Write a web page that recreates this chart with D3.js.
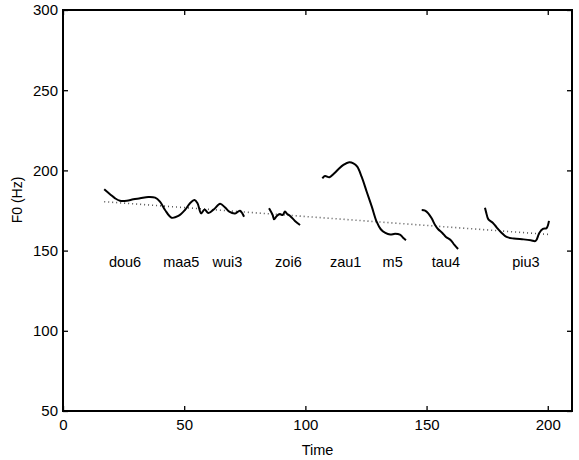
<!DOCTYPE html>
<html>
<head>
  <style>
    body { margin: 0; background: #fff; }
    svg { display: block; font-family: "Liberation Sans", Arial, sans-serif; }
  </style>
  <script src="https://d3js.org/d3.v7.min.js"></script>
</head>
<body>
  <svg id="chart" width="579" height="460"></svg>
  <script>
    // tick values
    const xTicks = [0, 50, 100, 150, 200];
    const yTicks = [50, 100, 150, 200, 250, 300];

    // syllable labels and where they sit in time
    const syllables = ["dou6", "maa5", "wui3", "zoi6", "zau1", "m5", "tau4", "piu3"];
    const syllableTimes = [25.6, 48.8, 67.8, 93, 116.6, 136, 158, 191];
    const labelF0 = 139.5;

    // F0 contours, [time, Hz]
    const contourA = [[17, 188.2], [19.5, 185], [21.5, 182.6], [23.5, 181.1], [26.3, 181.1], [29, 182],
      [31.8, 182.6], [35.2, 183.4], [38, 183], [40, 180.5], [42.1, 175.3], [44.8, 170.5], [47.6, 171.6],
      [50.3, 175.3], [52.4, 179.5], [54.3, 181.5], [55.5, 179.5], [57, 173.2], [58.4, 175.7], [60, 173.4],
      [62.3, 175.8], [64.8, 179.2], [66.8, 177], [68.6, 174.3], [71, 173.2], [73, 174.9], [74.7, 171.1]];
    const contourB = [[85, 176.4], [86.5, 172.2], [87.1, 169.5], [88.2, 171.6], [89.5, 172.8], [90.6, 172.2],
      [91.6, 174.3], [92.5, 172.8], [93.7, 171.6], [95.7, 168.5], [97.8, 166]];
    const contourC = [[107, 195.1], [108.1, 196.5], [109.9, 195.7], [111.5, 197.6], [113.6, 200.7],
      [115.7, 203.4], [118.1, 205.1], [119.8, 204.4], [121.4, 202.3], [123.2, 196.1], [125.3, 186.7],
      [127.4, 177.4], [129.4, 168], [131.1, 163.3], [133, 161], [135, 160], [137, 160.5], [139, 160],
      [140.3, 158], [141.5, 156.5]];
    const contourD = [[148, 175.3], [149.4, 174.9], [150.7, 173.2], [152.1, 170.1], [153.5, 166],
      [154.8, 163.3], [156.5, 161], [158, 158.5], [160, 156.5], [161.5, 153.5], [163, 151]];
    const contourE = [[174.1, 176.7], [174.5, 174.3], [175.5, 169.5], [177.3, 167.4], [178.9, 164.5],
      [181, 161], [183, 158.5], [186, 157.5], [190, 157], [193, 156.5], [195, 156], [196.5, 161],
      [198, 163.5], [199.5, 164], [200.5, 168.5]];
    const contours = [contourA, contourB, contourC, contourD, contourE];

    // declination trend (dotted)
    const trendTime = [17, 201];
    const trendF0 = [180.5, 160];

    const svg = d3.select("#chart");
    const plotLeft = 63, plotRight = 572, plotTop = 10, plotBottom = 411;

    const x = d3.scaleLinear().domain([0, 210]).range([plotLeft, plotRight]);
    const y = d3.scaleLinear().domain([50, 300]).range([plotBottom, plotTop]);

    // axes, MATLAB style: inward ticks on all four sides
    function styleAxis(g) {
      g.select(".domain").remove();
      g.selectAll(".tick line").attr("stroke", "#000").attr("stroke-width", 1.3);
      g.selectAll(".tick text").attr("fill", "#000").style("font-size", "15px");
    }

    svg.append("g")
      .attr("transform", "translate(0," + plotBottom + ")")
      .call(d3.axisBottom(x).tickValues(xTicks).tickSize(-5).tickPadding(8))
      .call(styleAxis);
    svg.append("g")
      .attr("transform", "translate(0," + plotTop + ")")
      .call(d3.axisTop(x).tickValues(xTicks).tickSize(-5).tickFormat(""))
      .call(styleAxis);
    svg.append("g")
      .attr("transform", "translate(" + plotLeft + ",0)")
      .call(d3.axisLeft(y).tickValues(yTicks).tickSize(-5).tickPadding(5))
      .call(styleAxis);
    svg.append("g")
      .attr("transform", "translate(" + plotRight + ",0)")
      .call(d3.axisRight(y).tickValues(yTicks).tickSize(-5).tickFormat(""))
      .call(styleAxis);

    svg.append("rect")
      .attr("x", plotLeft).attr("y", plotTop)
      .attr("width", plotRight - plotLeft).attr("height", plotBottom - plotTop)
      .attr("fill", "none").attr("stroke", "#000").attr("stroke-width", 2);

    // dotted trend line
    svg.append("path")
      .attr("d", d3.line()(trendTime.map((t, i) => [x(t), y(trendF0[i])])))
      .attr("fill", "none")
      .attr("stroke", "#555")
      .attr("stroke-width", 1.6)
      .attr("stroke-dasharray", "1,3");

    // contours
    const line = d3.line()
      .x(d => x(d[0]))
      .y(d => y(d[1]))
      .curve(d3.curveCatmullRom);

    svg.selectAll(".contour")
      .data(contours)
      .enter()
      .append("path")
      .attr("class", "contour")
      .attr("d", line)
      .attr("fill", "none")
      .attr("stroke", "#000")
      .attr("stroke-width", 2)
      .attr("stroke-linejoin", "round");

    // syllable labels
    svg.selectAll(".syl")
      .data(syllables)
      .enter()
      .append("text")
      .attr("class", "syl")
      .attr("x", (d, i) => x(syllableTimes[i]))
      .attr("y", y(labelF0))
      .attr("text-anchor", "middle")
      .style("font-size", "14.5px")
      .text(d => d);

    // axis titles
    svg.append("text")
      .attr("x", (plotLeft + plotRight) / 2)
      .attr("y", 455)
      .attr("text-anchor", "middle")
      .style("font-size", "14.5px")
      .text("Time");

    svg.append("text")
      .attr("transform", "translate(22,200) rotate(-90)")
      .attr("text-anchor", "middle")
      .style("font-size", "14px")
      .text("F0 (Hz)");
  </script>
</body>
</html>
